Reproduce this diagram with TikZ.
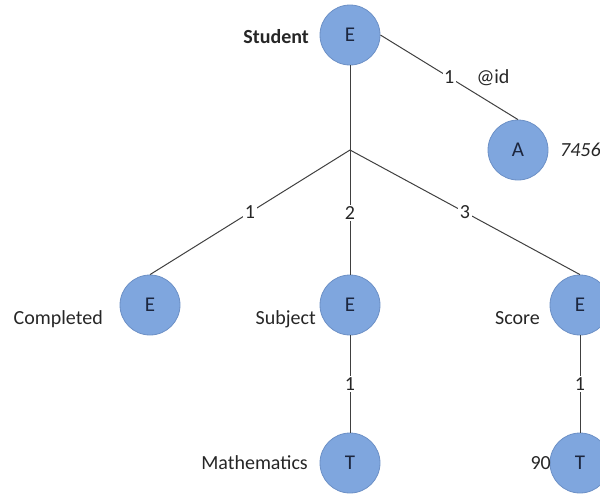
\documentclass[tikz,border=0pt]{standalone}
\usepackage{fontspec}
\setmainfont{Carlito}
\definecolor{nodefill}{RGB}{127,166,222}
\definecolor{nodeline}{RGB}{108,144,198}
\definecolor{nodetext}{RGB}{28,38,62}
\definecolor{edgeline}{RGB}{64,64,64}
\definecolor{labeltext}{RGB}{38,38,38}
\begin{document}
\begin{tikzpicture}[x=1pt,y=-1pt,
  font=\fontsize{20}{24}\selectfont,
  vertex/.style={circle, minimum size=60pt, inner sep=0pt, fill=nodefill,
                 draw=nodeline, line width=0.8pt, text=nodetext,
                 font=\fontsize{21}{24}\selectfont},
  link/.style={draw=edgeline, line width=1pt},
  edgetag/.style={fill=white, inner sep=1.5pt, text=labeltext},
  caption/.style={text=labeltext, inner sep=0pt}]

\useasboundingbox (0,0) rectangle (600,493);
\clip (0,0) rectangle (600,493);

% element / attribute / text vertices
\node[vertex] (stu)  at (350,35)  {E};
\node[vertex] (attr) at (518,150) {A};
\node[vertex] (comp) at (150,305) {E};
\node[vertex] (subj) at (350,305) {E};
\node[vertex] (scor) at (580,305) {E};
\node[vertex] (math) at (350,463) {T};
\node[vertex] (num)  at (580,463) {T};
\coordinate (fork) at (350,150);

% names and values
\node[caption, anchor=base east] (stuname)  at (309,43.5)  {\textbf{Student}};
\node[caption, anchor=base]      (idname)   at (493,83.5)  {@id};
\node[caption, anchor=base west] (idval)    at (560,156.5) {\textit{7456}};
\node[caption, anchor=base east] (compname) at (103,324.5) {Completed};
\node[caption, anchor=base east] (subjname) at (316,324.5) {Subject};
\node[caption, anchor=base east] (scorname) at (540,324.5) {Score};
\node[caption, anchor=base east] (mathval)  at (308,469.5) {Mathematics};
\node[caption, anchor=base east] (numval)   at (551,469.5) {90};

% connectors
\draw[link] (stu.east) -- node[edgetag, midway] {1} (attr.north);
\draw[link] (stu.south) -- (fork);
\draw[link] (fork) -- node[edgetag, midway] {1} (comp.north);
\draw[link] (fork) -- node[edgetag, midway, yshift=-1pt] {2} (subj.north);
\draw[link] (fork) -- node[edgetag, midway] {3} (scor.north);
\draw[link] (subj.south) -- node[edgetag, midway] {1} (math.north);
\draw[link] (scor.south) -- node[edgetag, midway] {1} (num.north);
\end{tikzpicture}
\end{document}
